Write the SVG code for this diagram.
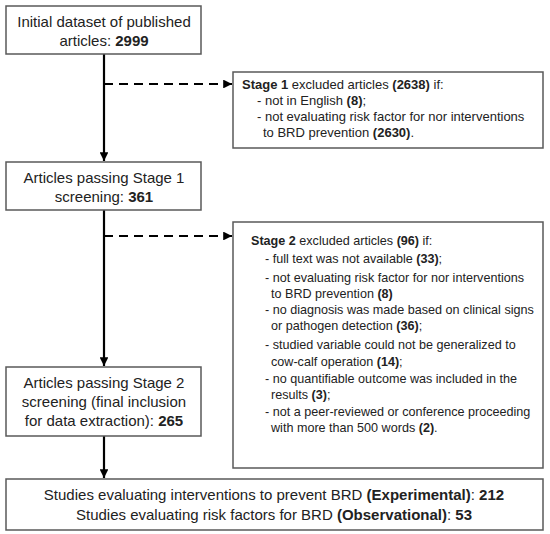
<svg xmlns="http://www.w3.org/2000/svg" width="550" height="534" viewBox="0 0 550 534">
<defs>
<style>
.box{fill:#fff;stroke:#595959;stroke-width:1.5}
.t{font-family:"Liberation Sans",Arial,sans-serif;font-size:15px;fill:#222}
.s{font-family:"Liberation Sans",Arial,sans-serif;font-size:13px;fill:#222}
.s2{font-family:"Liberation Sans",Arial,sans-serif;font-size:12.6px;fill:#222}
.c{text-anchor:middle}
.b{font-weight:bold}
.line{stroke:#000;stroke-width:2.2;fill:none}
.dash{stroke:#000;stroke-width:2.2;fill:none;stroke-dasharray:9,6}
</style>
<marker id="ah" viewBox="0 0 10 10" refX="10" refY="5" markerWidth="4" markerHeight="4" orient="auto" markerUnits="strokeWidth">
<path d="M0,0L10,5L0,10z" fill="#000"/>
</marker>
</defs>
<rect width="550" height="534" fill="#fff"/>
<g id="connectors">
<line class="line" x1="104" y1="54" x2="104" y2="161" marker-end="url(#ah)"/>
<line class="dash" x1="104" y1="84" x2="232" y2="84" marker-end="url(#ah)"/>
<line class="line" x1="104" y1="210" x2="104" y2="366" marker-end="url(#ah)"/>
<line class="dash" x1="104" y1="236" x2="232" y2="236" marker-end="url(#ah)"/>
<line class="line" x1="104" y1="436" x2="104" y2="478" marker-end="url(#ah)"/>
</g>
<g id="initial">
<rect class="box" x="6" y="6" width="195" height="48"/>
<text class="t c" x="104" y="27">Initial dataset of published</text>
<text class="t c" x="104" y="46">articles: <tspan class="b">2999</tspan></text>
</g>
<g id="stage1-excluded">
<rect class="box" x="233" y="72" width="310" height="76"/>
<text class="s" x="242" y="89"><tspan class="b">Stage 1</tspan> excluded articles <tspan class="b">(2638)</tspan> if:</text>
<text class="s" x="257" y="105">- not in English <tspan class="b">(8)</tspan>;</text>
<text class="s" x="257" y="121">- not evaluating risk factor for nor interventions</text>
<text class="s" x="263" y="137">to BRD prevention <tspan class="b">(2630)</tspan>.</text>
</g>
<g id="stage1-passed">
<rect class="box" x="6" y="162" width="195" height="48"/>
<text class="t c" x="104" y="183">Articles passing Stage 1</text>
<text class="t c" x="104" y="202">screening: <tspan class="b">361</tspan></text>
</g>
<g id="stage2-excluded">
<rect class="box" x="233" y="222" width="310" height="246"/>
<text class="s2" x="251" y="245"><tspan class="b">Stage 2</tspan> excluded articles <tspan class="b">(96)</tspan> if:</text>
<text class="s2" x="265" y="263">- full text was not available <tspan class="b">(33)</tspan>;</text>
<text class="s2" x="265" y="282">- not evaluating risk factor for nor interventions</text>
<text class="s2" x="271" y="298">to BRD prevention <tspan class="b">(8)</tspan></text>
<text class="s2" x="265" y="314">- no diagnosis was made based on clinical signs</text>
<text class="s2" x="271" y="330">or pathogen detection <tspan class="b">(36)</tspan>;</text>
<text class="s2" x="265" y="349">- studied variable could not be generalized to</text>
<text class="s2" x="271" y="366">cow-calf operation <tspan class="b">(14)</tspan>;</text>
<text class="s2" x="265" y="383">- no quantifiable outcome was included in the</text>
<text class="s2" x="271" y="399">results <tspan class="b">(3)</tspan>;</text>
<text class="s2" x="265" y="416">- not a peer-reviewed or conference proceeding</text>
<text class="s2" x="271" y="432">with more than 500 words <tspan class="b">(2)</tspan>.</text>
</g>
<g id="stage2-passed">
<rect class="box" x="6" y="367" width="195" height="69"/>
<text class="t c" x="104" y="388">Articles passing Stage 2</text>
<text class="t c" x="104" y="407">screening (final inclusion</text>
<text class="t c" x="104" y="426">for data extraction): <tspan class="b">265</tspan></text>
</g>
<g id="final">
<rect class="box" x="6" y="479" width="537" height="51"/>
<text class="t c" x="274" y="500">Studies evaluating interventions to prevent BRD <tspan class="b">(Experimental)</tspan>: <tspan class="b">212</tspan></text>
<text class="t c" x="274" y="520">Studies evaluating risk factors for BRD <tspan class="b">(Observational)</tspan>: <tspan class="b">53</tspan></text>
</g>
</svg>
